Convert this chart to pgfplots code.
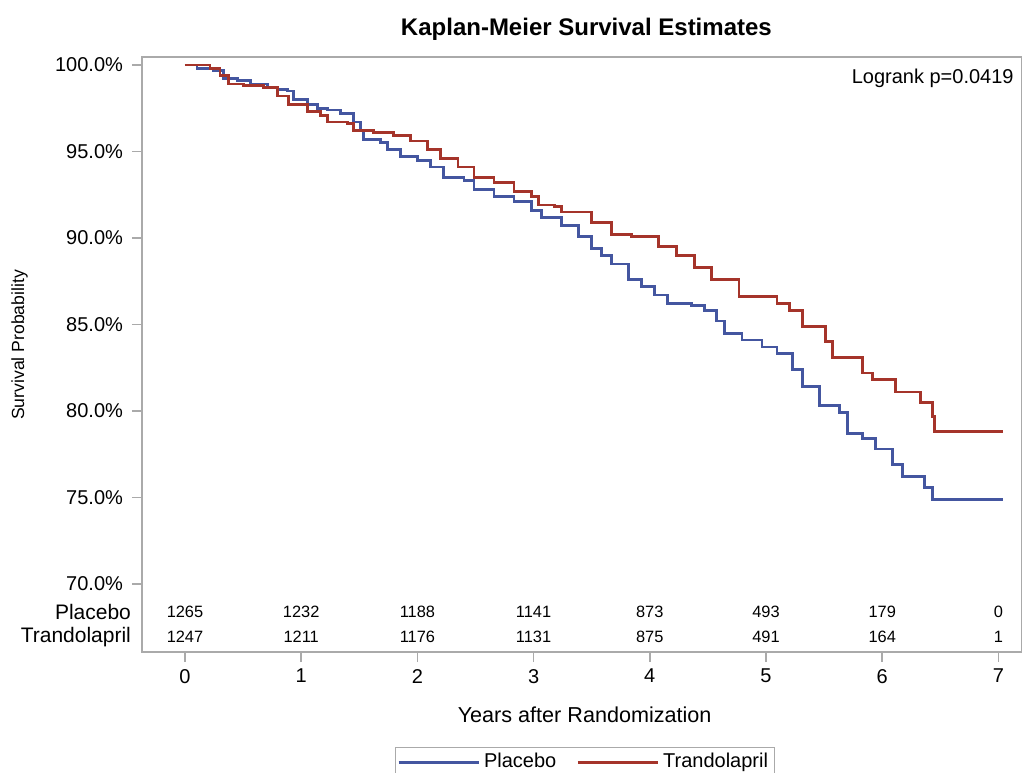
\documentclass[border=0pt]{standalone}
\usepackage{pgfplots}
\pgfplotsset{compat=1.18}
\usepackage{pgfplotstable}
\usepackage{fontspec}
\setmainfont{Liberation Sans}
\definecolor{kmblue}{RGB}{68,86,160}
\definecolor{kmred}{RGB}{165,52,42}
\definecolor{framegray}{RGB}{170,170,170}

% Kaplan-Meier estimates (years, survival %)
\pgfplotstableread{
t S
0.000 100.0
0.104 99.8
0.242 99.7
0.328 99.2
0.449 99.1
0.561 98.9
0.708 98.7
0.794 98.6
0.881 98.5
0.933 98.0
1.054 97.7
1.140 97.5
1.226 97.4
1.339 97.2
1.451 96.7
1.511 96.2
1.537 95.7
1.684 95.5
1.744 95.1
1.857 94.7
2.003 94.5
2.116 94.1
2.228 93.5
2.401 93.3
2.487 92.8
2.660 92.4
2.832 92.1
2.979 91.6
3.066 91.2
3.238 90.7
3.385 90.1
3.497 89.4
3.584 89.0
3.670 88.5
3.817 87.6
3.929 87.2
4.041 86.7
4.154 86.2
4.361 86.1
4.473 85.8
4.577 85.2
4.646 84.5
4.793 84.1
4.965 83.7
5.095 83.3
5.225 82.4
5.311 81.4
5.458 80.3
5.630 79.9
5.699 78.7
5.829 78.4
5.941 77.8
6.088 76.9
6.174 76.2
6.364 75.6
6.434 74.9
7.038 74.9
}\placebo

\pgfplotstableread{
t S
0.000 100.0
0.216 99.8
0.302 99.4
0.371 98.9
0.501 98.8
0.674 98.7
0.794 98.2
0.889 97.7
1.054 97.3
1.166 97.1
1.226 96.7
1.399 96.6
1.451 96.2
1.623 96.1
1.796 95.9
1.943 95.6
2.090 95.1
2.202 94.6
2.349 94.1
2.487 93.5
2.660 93.2
2.832 92.7
2.979 92.4
3.040 91.9
3.178 91.8
3.238 91.5
3.497 90.9
3.670 90.2
3.843 90.1
4.076 89.5
4.231 89.0
4.387 88.3
4.534 87.6
4.767 86.6
4.940 86.6
5.095 86.2
5.199 85.8
5.311 84.9
5.509 84.0
5.570 83.1
5.743 83.1
5.829 82.2
5.915 81.8
6.114 81.1
6.330 80.5
6.434 79.7
6.451 78.8
7.038 78.8
}\trando

% numbers at risk
\pgfplotstableread{
t n1 n2
0 1265 1247
1 1232 1211
2 1188 1176
3 1141 1131
4 873 875
5 493 491
6 179 164
7 0 1
}\atrisk

\begin{document}
\begin{tikzpicture}
\begin{axis}[
  scale only axis,
  width=440pt, height=297.5pt,
  xmin=-0.370, xmax=7.203,
  ymin=66.07, ymax=100.46,
  xtick={0,...,7},
  ytick={70,75,...,100},
  xtick pos=bottom, ytick pos=left,
  extra y ticks={68.38,66.94},
  extra y tick labels={Placebo,Trandolapril},
  extra y tick style={major tick length=0pt, tick style={draw=none},
    yticklabel style={font=\fontsize{10.5}{12}\selectfont, xshift=-1pt}},
  /pgf/number format/assume math mode=true,
  yticklabel={\pgfmathprintnumber[fixed,precision=1,zerofill]{\tick}\%},
  tick align=outside,
  major tick length=5pt,
  tick style={draw=framegray, line width=0.8pt},
  axis line style={draw=framegray, line width=0.8pt},
  ticklabel style={font=\fontsize{10}{12}\selectfont},
  yticklabel style={xshift=-1pt},
  title={\textbf{Kaplan-Meier Survival Estimates}},
  title style={font=\fontsize{12}{14}\selectfont, at={(axis description cs:0.505,1)}, anchor=center, yshift=8pt},
  xlabel={Years after Randomization},
  xlabel style={font=\fontsize{10.8}{13}\selectfont, at={(axis description cs:0.503,0)}, anchor=center, yshift=-31.5pt},
  ylabel={Survival Probability},
  ylabel style={font=\fontsize{8.8}{10}\selectfont, at={(axis description cs:-0.139,0.516)}, anchor=center},
  legend columns=2,
  legend style={at={(axis description cs:0.503,0)}, anchor=north, yshift=-47.5pt,
    draw=framegray, font=\fontsize{10}{12}\selectfont, inner sep=1pt,
    /tikz/every even column/.append style={column sep=8pt}},
  legend image code/.code={\draw[#1] (0pt,0pt) -- (40pt,0pt);},
  clip=false,
]
\addplot[const plot, kmblue, line width=1.4pt] table[x=t, y=S] {\placebo};
\addlegendentry{Placebo}
\addplot[const plot, kmred, line width=1.4pt] table[x=t, y=S] {\trando};
\addlegendentry{Trandolapril}
\addplot[draw=none, mark=none, nodes near coords, point meta=explicit symbolic,
  every node near coord/.style={anchor=center, font=\fontsize{8.2}{10}\selectfont}]
  table[x=t, y expr=68.38, meta=n1] {\atrisk};
\addplot[draw=none, mark=none, nodes near coords, point meta=explicit symbolic,
  every node near coord/.style={anchor=center, font=\fontsize{8.2}{10}\selectfont}]
  table[x=t, y expr=66.94, meta=n2] {\atrisk};
\node[anchor=north east, font=\fontsize{10}{12}\selectfont, inner sep=2pt]
  at (rel axis cs:1,1) [xshift=-2pt, yshift=-4pt] {Logrank p=0.0419};
\end{axis}
\pgfresetboundingbox
\path[use as bounding box] (-71pt,-60pt) rectangle (440pt,326pt);
\end{tikzpicture}
\end{document}
